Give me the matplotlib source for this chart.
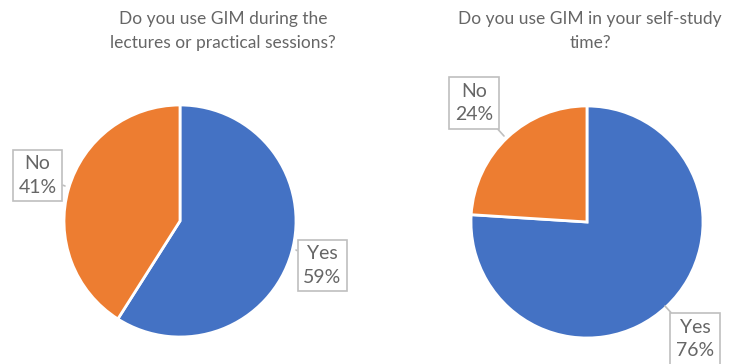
import matplotlib
matplotlib.use("Agg")
import matplotlib.pyplot as plt

# data
labels = ["Yes", "No"]
lectures = [59, 41]
selfstudy = [76, 24]
titles = ["Do you use GIM during the\nlectures or practical sessions?",
          "Do you use GIM in your self-study\ntime?"]
colors = ["#4472C4", "#ED7D31"]

W, H = 739, 364
fig = plt.figure(figsize=(W / 100, H / 100), dpi=100)
ax = fig.add_axes([0, 0, 1, 1])

plt.rcParams["font.family"] = ["Lato", "DejaVu Sans"]
txt_col = "#666666"
box_col = "#BFBFBF"

# left pie, clockwise from the top
ax.pie(lectures, colors=colors, startangle=90, counterclock=False,
       center=(180, H - 221), radius=116,
       wedgeprops=dict(edgecolor="white", linewidth=2))

# right pie, "No" pulled out a bit
ax.pie(selfstudy, colors=colors, startangle=90, counterclock=False,
       center=(587, H - 222), radius=116, explode=[0, 0.05],
       wedgeprops=dict(edgecolor="white", linewidth=2))

ax.set_xlim(0, W)
ax.set_ylim(0, H)
ax.set_aspect("equal")
ax.axis("off")

ax.text(223, H - 31, titles[0], ha="center", va="center", fontsize=12.5,
        color=txt_col, linespacing=1.6)
ax.text(590, H - 31, titles[1], ha="center", va="center", fontsize=12.5,
        color=txt_col, linespacing=1.6)

bbox = dict(boxstyle="square,pad=0.3", fc="white", ec=box_col, lw=1.2)
arrow = dict(arrowstyle="-", color=box_col, lw=1.2, shrinkA=0, shrinkB=0)


def callout(text, xy, xytext):
    ax.annotate(text, xy=xy, xytext=xytext, ha="center", va="center",
                fontsize=14, color=txt_col, linespacing=1.45,
                bbox=bbox, arrowprops=arrow)


callout(f"{labels[1]}\n{lectures[1]}%", (65, H - 186), (37.5, H - 175.5))
callout(f"{labels[0]}\n{lectures[0]}%", (296, H - 250), (322.5, H - 265.5))
callout(f"{labels[1]}\n{selfstudy[1]}%", (504, H - 136), (474, H - 103))
callout(f"{labels[0]}\n{selfstudy[0]}%", (665, H - 306), (695, H - 339))

fig.savefig("out.png", dpi=100)
